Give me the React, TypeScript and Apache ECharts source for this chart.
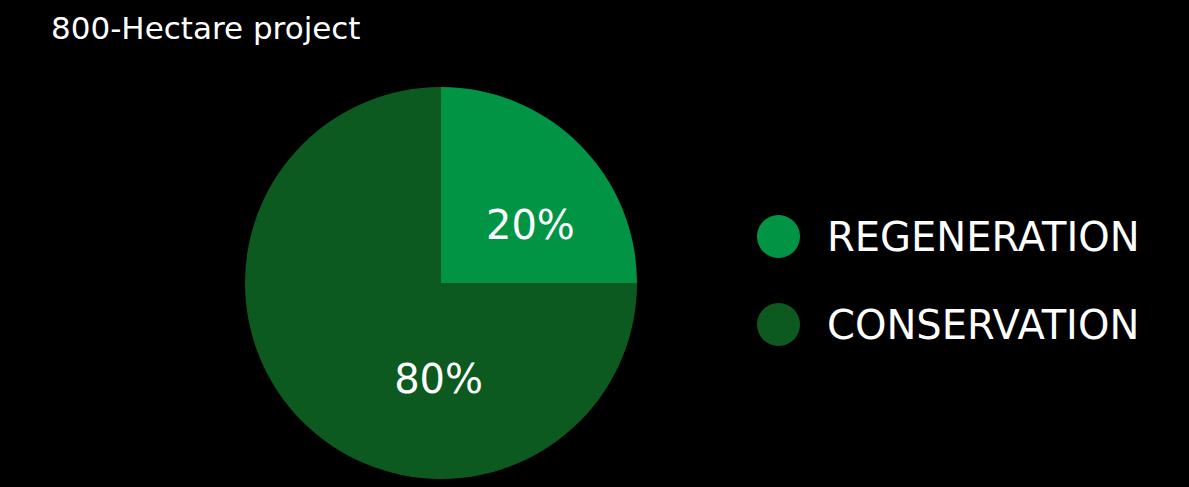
import React, { useEffect, useRef } from "react";
import * as echarts from "echarts";

const titleText = "800-Hectare project";
const categories = ["REGENERATION", "CONSERVATION"];
const hectares = [200, 600];
const labelTexts = ["20%", "80%"];
const colors = ["#009444", "#0C5A20"];

export default function App() {
  const ref = useRef<HTMLDivElement>(null);
  useEffect(() => {
    const chart = echarts.init(ref.current!, null, { renderer: "svg" });
    const font = "DejaVu Sans";
    chart.setOption({
      animation: false,
      backgroundColor: "#000",
      title: {
        text: titleText,
        left: 46,
        top: 7,
        textStyle: { color: "#fff", fontFamily: font, fontWeight: "normal", fontSize: 31 },
      },
      legend: {
        orient: "vertical",
        left: 752,
        top: 210,
        icon: "circle",
        itemWidth: 43,
        itemHeight: 43,
        itemGap: 45,
        data: categories,
        textStyle: { color: "#fff", fontFamily: font, fontSize: 40, padding: [0, 0, 0, 22] },
      },
      series: [
        {
          type: "pie",
          center: [441, 283],
          radius: 196,
          startAngle: 90,
          clockwise: true,
          silent: true,
          label: {
            position: "inside",
            color: "#fff",
            fontFamily: font,
            fontSize: 40,
            formatter: (p: any) => labelTexts[p.dataIndex],
          },
          labelLine: { show: false },
          data: categories.map((name, i) => ({
            name,
            value: hectares[i],
            itemStyle: { color: colors[i] },
            label: { offset: i === 0 ? [18, 13] : [69, 25] },
          })),
        },
      ],
    });
    return () => chart.dispose();
  }, []);
  return (
    <div
      ref={ref}
      style={{ position: "fixed", left: 0, top: 0, width: 1189, height: 487 }}
    />
  );
}
